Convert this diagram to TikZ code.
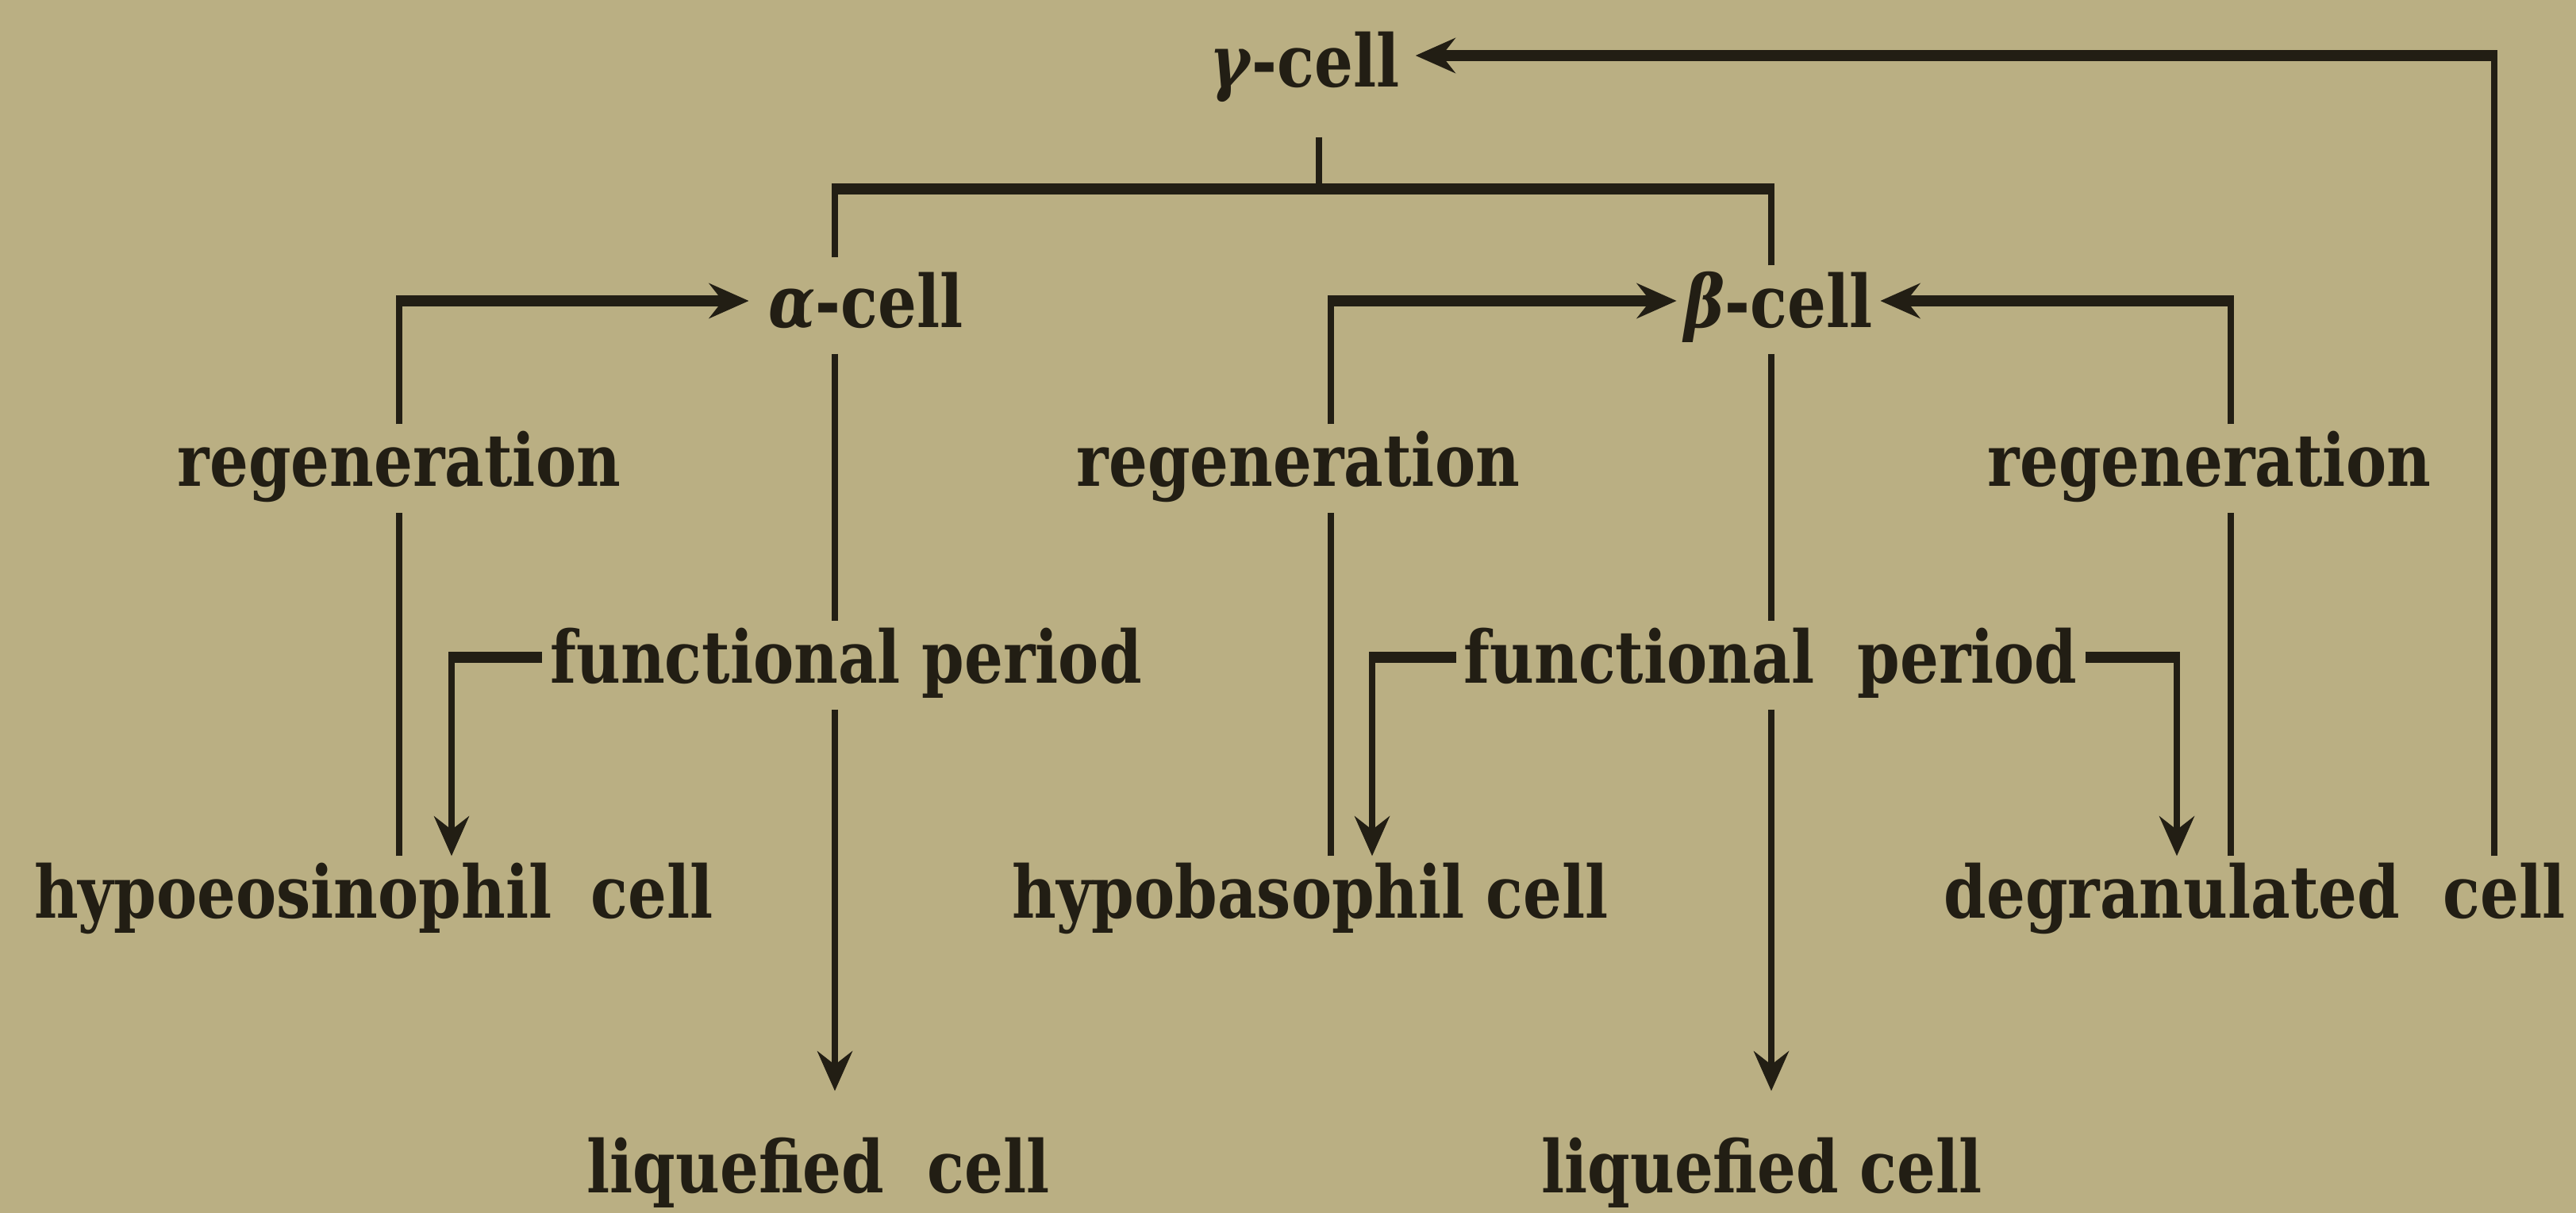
\documentclass[tikz,border=0pt]{standalone}
\usepackage{fontspec}
\setmainfont{DejaVu Serif}[FakeStretch=0.84]
\usetikzlibrary{arrows.meta}
\definecolor{paper}{RGB}{186,175,131}
\definecolor{ink}{RGB}{34,30,20}
\begin{document}
\begin{tikzpicture}[
  lbl/.style={inner sep=0pt, outer sep=0.1cm, text=ink,
    font=\fontsize{26}{28}\selectfont\bfseries,
    text height=19.5pt, text depth=6.5pt},
  vline/.style={draw=ink, line width=2.2pt},
  hline/.style={draw=ink, line width=3.8pt},
  tip/.style={-{Stealth[length=0.5cm,width=0.44cm,inset=0.17cm]}}]
\useasboundingbox (0,0) rectangle (32.46,-15.28);
\fill[paper] (0,0) rectangle (32.46,-15.28);

% nodes
\node[lbl] (gamma) at (16.44,-0.87) {\textit{γ}-cell};
\node[lbl] (alpha) at (10.91,-3.90) {\textit{α}-cell};
\node[lbl] (beta)  at (22.41,-3.90) {\textit{β}-cell};
\node[lbl] (regL)  at (5.03,-5.90) {regeneration};
\node[lbl] (regM)  at (16.36,-5.90) {regeneration};
\node[lbl] (regR)  at (27.84,-5.90) {regeneration};
\node[lbl] (funL)  at (10.66,-8.38) {functional period};
\node[lbl] (funM)  at (22.31,-8.38) {functional\hspace{0.3em} period};
\node[lbl] (hypoE) at (4.71,-11.34) {hypoeosinophil\hspace{0.25em} cell};
\node[lbl] (hypoB) at (16.51,-11.34) {hypobasophil cell};
\node[lbl] (degr)  at (28.41,-11.34) {degranulated\hspace{0.3em} cell};
\node[lbl] (liqL)  at (10.31,-14.80) {liquefied\hspace{0.3em} cell};
\node[lbl] (liqR)  at (22.20,-14.80) {liquefied cell};

% x positions of vertical lines, y positions of horizontal lines
\coordinate (xG)   at (16.62,0);
\coordinate (xA)   at (10.52,0);
\coordinate (xB)   at (22.32,0);
\coordinate (xRL)  at (5.03,0);
\coordinate (xRM)  at (16.77,0);
\coordinate (xRR)  at (28.11,0);
\coordinate (xFL)  at (5.69,0);
\coordinate (xFM1) at (17.29,0);
\coordinate (xFM2) at (27.43,0);
\coordinate (xE)   at (31.43,0);
\coordinate (yG)   at (0,-0.70);
\coordinate (yBar) at (0,-2.38);
\coordinate (yAB)  at (0,-3.79);
\coordinate (yF)   at (0,-8.28);

% gamma to alpha and beta
\draw[vline, shorten <=0.3cm, shorten >=-1.9pt] (gamma.south -| xG) -- (xG |- yBar);
\draw[hline, shorten <=-1.1pt, shorten >=-1.1pt] (xA |- yBar) -- (xB |- yBar);
\draw[vline, shorten <=0.1cm, shorten >=-1.9pt] (alpha.north -| xA) -- (xA |- yBar);
\draw[vline, shorten >=-1.9pt] (beta.north -| xB) -- (xB |- yBar);

% alpha and beta down to liquefied cells
\draw[vline] (alpha.south -| xA) -- (funL.north -| xA);
\draw[vline, tip, shorten >=0.5cm] (funL.south -| xA) -- (liqL.north -| xA);
\draw[vline] (beta.south -| xB) -- (funM.north -| xB);
\draw[vline, tip, shorten >=0.5cm] (funM.south -| xB) -- (liqR.north -| xB);

% functional periods
\draw[hline, shorten >=-1.1pt] (funL.west |- yF) -- (xFL |- yF);
\draw[vline, tip, shorten <=-1.9pt] (xFL |- yF) -- (hypoE.north -| xFL);
\draw[hline, shorten >=-1.1pt] (funM.west |- yF) -- (xFM1 |- yF);
\draw[vline, tip, shorten <=-1.9pt] (xFM1 |- yF) -- (hypoB.north -| xFM1);
\draw[hline, shorten >=-1.1pt] (funM.east |- yF) -- (xFM2 |- yF);
\draw[vline, tip, shorten <=-1.9pt] (xFM2 |- yF) -- (degr.north -| xFM2);

% regenerations
\draw[vline] (hypoE.north -| xRL) -- (regL.south -| xRL);
\draw[vline, shorten >=-1.9pt] (regL.north -| xRL) -- (xRL |- yAB);
\draw[hline, tip, shorten <=-1.1pt, shorten >=0.15cm] (xRL |- yAB) -- (alpha.west |- yAB);
\draw[vline] (hypoB.north -| xRM) -- (regM.south -| xRM);
\draw[vline, shorten >=-1.9pt] (regM.north -| xRM) -- (xRM |- yAB);
\draw[hline, tip, shorten <=-1.1pt] (xRM |- yAB) -- (beta.west |- yAB);
\draw[vline] (degr.north -| xRR) -- (regR.south -| xRR);
\draw[vline, shorten >=-1.9pt] (regR.north -| xRR) -- (xRR |- yAB);
\draw[hline, tip, shorten <=-1.1pt] (xRR |- yAB) -- (beta.east |- yAB);

% degranulated back to gamma
\draw[vline, shorten >=-1.9pt] (degr.north -| xE) -- (xE |- yG);
\draw[hline, tip, shorten <=-1.1pt, shorten >=0.1cm] (xE |- yG) -- (gamma.east |- yG);
\end{tikzpicture}
\end{document}
